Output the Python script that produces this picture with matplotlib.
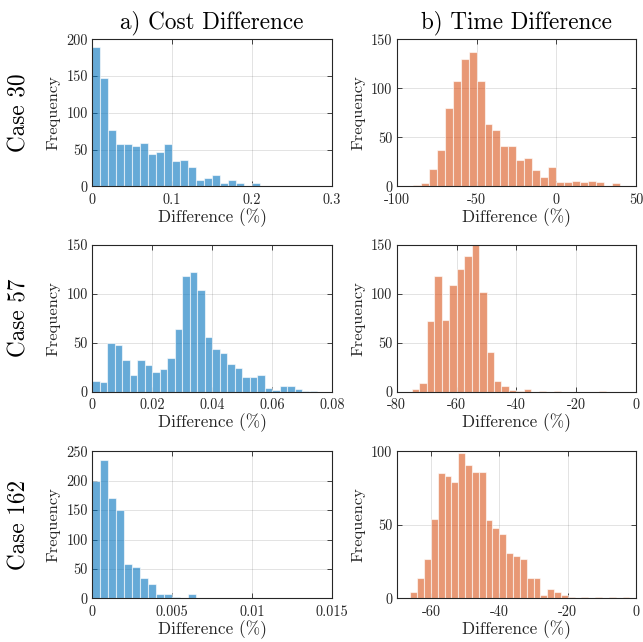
"""
Histogramas de diferencias de coste y tiempo para tres casos de prueba.
"""

import matplotlib
matplotlib.use('Agg')
import numpy as np
import matplotlib.pyplot as plt
from matplotlib.ticker import FuncFormatter

plt.rcParams['font.family'] = 'cmr10'
plt.rcParams['mathtext.fontset'] = 'cm'
plt.rcParams['axes.unicode_minus'] = False

COLOR_COST = '#0072BD'   # azul MATLAB
COLOR_TIME = '#D95319'   # naranja MATLAB

CASES = ['Case 30', 'Case 57', 'Case 162']
COL_TITLES = ['a) Cost Difference', 'b) Time Difference']

# Conteos por bin, inicio y ancho de bin
cost30_counts = [189, 147, 76, 58, 57, 55, 59, 44, 47, 58, 34, 36, 26, 8, 11,
                 15, 5, 9, 4, 0, 4, 0, 0, 1, 0, 0, 1, 0, 1, 0]
cost30_start, cost30_width = 0.0, 0.01

time30_counts = [1, 3, 18, 37, 80, 107, 130, 137, 107, 64, 57, 41, 41, 27, 29,
                 17, 10, 20, 4, 4, 5, 4, 5, 4, 0, 3]
time30_start, time30_width = -90.0, 5.0

cost57_counts = [11, 10, 50, 48, 32, 17, 32, 27, 20, 23, 34, 64, 118, 122, 104,
                 56, 44, 39, 28, 24, 15, 15, 17, 4, 2, 6, 6, 3, 1, 1]
cost57_start, cost57_width = 0.0, 0.0025

time57_counts = [3, 9, 72, 118, 73, 109, 125, 138, 151, 102, 40, 11, 6, 2, 1,
                 3, 0, 1, 0, 1, 0, 0, 0, 0, 0, 1]
time57_start, time57_width = -75.0, 2.5

cost162_counts = [199, 236, 171, 150, 59, 54, 35, 25, 7, 8, 3, 0, 8, 1, 0, 1,
                  1, 1, 0, 0, 0, 0, 0, 1, 0, 1, 0, 1, 0, 0]
cost162_start, cost162_width = 0.0, 0.0005

time162_counts = [4, 14, 27, 54, 85, 83, 79, 99, 91, 86, 86, 53, 48, 44, 31,
                  29, 27, 14, 14, 2, 6, 4, 2, 1, 0, 1, 0, 1, 0, 1, 0, 1]
time162_start, time162_width = -66.0, 2.0

# Limites y ticks de cada panel
x_limits = [[(0, 0.3), (-100, 50)],
            [(0, 0.08), (-80, 0)],
            [(0, 0.015), (-70, 0)]]
x_ticks = [[[0, 0.1, 0.2, 0.3], [-100, -50, 0, 50]],
           [[0, 0.02, 0.04, 0.06, 0.08], [-80, -60, -40, -20, 0]],
           [[0, 0.005, 0.01, 0.015], [-60, -40, -20, 0]]]
y_limits = [[(0, 200), (0, 150)],
            [(0, 150), (0, 150)],
            [(0, 250), (0, 100)]]
y_ticks = [[[0, 50, 100, 150, 200], [0, 50, 100, 150]],
           [[0, 50, 100, 150], [0, 50, 100, 150]],
           [[0, 50, 100, 150, 200, 250], [0, 50, 100]]]

DATA = [[(cost30_counts, cost30_start, cost30_width),
         (time30_counts, time30_start, time30_width)],
        [(cost57_counts, cost57_start, cost57_width),
         (time57_counts, time57_start, time57_width)],
        [(cost162_counts, cost162_start, cost162_width),
         (time162_counts, time162_start, time162_width)]]


def dibujar_histograma(ax, counts, start, width, color):
    """Dibuja un histograma a partir de conteos ya agrupados."""
    counts = np.asarray(counts, dtype=float)
    edges = start + width * np.arange(len(counts) + 1)
    centers = edges[:-1] + width / 2
    ax.hist(centers, bins=edges, weights=counts, color=color, alpha=0.6,
            edgecolor='white', linewidth=0.8, zorder=2)


fig = plt.figure(figsize=(6.43, 6.42), dpi=100)

lefts = [92 / 643, 396.7 / 643]
widths = [240 / 643, 239.5 / 643]
bottoms = [1 - 186.3 / 642, 1 - 391.7 / 642, 1 - 598.3 / 642]
height = 147 / 642

fmt = FuncFormatter(lambda v, p: f'{v:g}')

for r in range(3):
    for c in range(2):
        ax = fig.add_axes([lefts[c], bottoms[r], widths[c], height])
        counts, start, width = DATA[r][c]
        dibujar_histograma(ax, counts, start, width,
                           COLOR_COST if c == 0 else COLOR_TIME)
        ax.set_xlim(*x_limits[r][c])
        ax.set_ylim(*y_limits[r][c])
        ax.set_xticks(x_ticks[r][c])
        ax.set_yticks(y_ticks[r][c])
        ax.xaxis.set_major_formatter(fmt)
        ax.yaxis.set_major_formatter(fmt)
        ax.set_axisbelow(True)
        ax.grid(True, color='#262626', alpha=0.15, linewidth=0.6)
        ax.tick_params(direction='in', top=True, right=True, length=3.5,
                       width=0.6, color='#262626', labelsize=10.3,
                       labelcolor='#262626')
        ax.tick_params(axis='x', pad=5)
        ax.tick_params(axis='y', pad=3)
        for sp in ax.spines.values():
            sp.set_color('#262626')
            sp.set_linewidth(0.8)
        ax.set_xlabel('Difference (%)', fontsize=12.4, color='#262626')
        ax.set_ylabel('Frequency', fontsize=11.8, color='#262626')
        ax.xaxis.set_label_coords(0.5, -0.15)
        ax.yaxis.set_label_coords(-0.13, 0.5)
        if r == 0:
            ax.set_title(COL_TITLES[c], fontsize=16.7, pad=8)
        if c == 0:
            fig.text(0.03, bottoms[r] + height / 2, CASES[r], rotation=90,
                     ha='center', va='center', fontsize=16.7)

fig.savefig('out.png', dpi=100)
plt.close(fig)
